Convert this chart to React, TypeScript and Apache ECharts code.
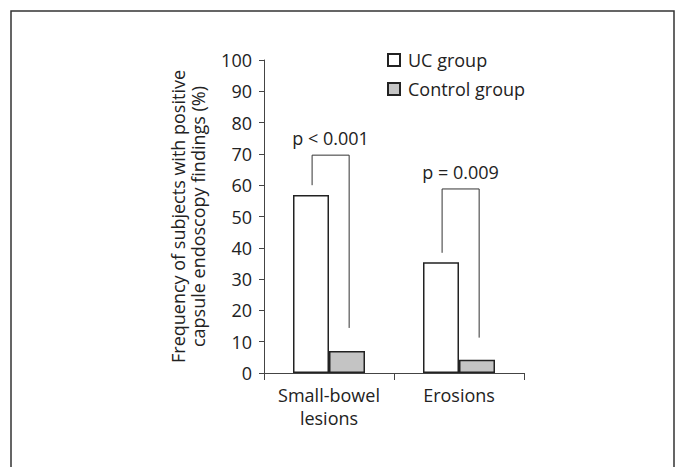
import React, { useEffect, useRef } from "react";
import * as echarts from "echarts";

const categories = ["Small-bowel\nlesions", "Erosions"];
const seriesNames = ["UC group", "Control group"];
const ucValues = [56.9, 35.4];
const controlValues = [7.0, 4.2];
const yTicks = { min: 0, max: 100, interval: 10 };
// bracket: [categoryIndex, leftFoot, top, rightFoot]
const brackets = [
  [0, 60, 69.6, 14.4],
  [1, 38.4, 58.8, 11.3],
];
const bracketLabels = ["p < 0.001", "p = 0.009"];

const FONT = "'Open Sans', 'DejaVu Sans', sans-serif";
const INK = "#222";
const FS = 18;

export default function App() {
  const ref = useRef<HTMLDivElement>(null);
  useEffect(() => {
    if (!ref.current) return;
    const chart = echarts.init(ref.current, undefined, { renderer: "svg" });
    chart.setOption({
      animation: false,
      backgroundColor: "#fff",
      textStyle: { fontFamily: FONT },
      grid: { left: 264, right: 157, top: 60, bottom: 94, containLabel: false },
      legend: {
        data: seriesNames,
        orient: "vertical",
        left: 387,
        top: 51,
        padding: 0,
        itemWidth: 12,
        itemHeight: 12,
        itemGap: 11,
        icon: "rect",
        textStyle: { fontSize: FS, lineHeight: 18, color: INK, fontFamily: FONT, padding: [0, 0, 0, 3] },
      },
      xAxis: {
        type: "category",
        data: categories,
        axisLine: { show: true, lineStyle: { color: "#444", width: 1 } },
        axisTick: { show: true, length: 7, lineStyle: { color: "#444" } },
        axisLabel: { interval: 0, hideOverlap: false, fontSize: FS, color: INK, lineHeight: 23, margin: 10, fontFamily: FONT },
      },
      yAxis: {
        type: "value",
        min: yTicks.min,
        max: yTicks.max,
        interval: yTicks.interval,
        name: "Frequency of subjects with positive\ncapsule endoscopy findings (%)",
        nameLocation: "middle",
        nameRotate: 90,
        nameGap: 56,
        nameTextStyle: { fontSize: FS, color: INK, lineHeight: 20, fontFamily: FONT },
        axisLine: { show: true, lineStyle: { color: "#444", width: 1 } },
        axisTick: { show: true, length: 5, lineStyle: { color: "#444" } },
        splitLine: { show: false },
        axisLabel: { fontSize: FS, color: INK, margin: 12, fontFamily: FONT },
      },
      series: [
        {
          name: seriesNames[0],
          type: "bar",
          data: ucValues,
          barWidth: 36,
          barGap: "0%",
          itemStyle: { color: "#fff", borderColor: "#222", borderWidth: 1.5 },
        },
        {
          name: seriesNames[1],
          type: "bar",
          data: controlValues,
          barWidth: 36,
          barGap: "0%",
          itemStyle: { color: "#c4c4c4", borderColor: "#222", borderWidth: 1.5 },
        },
        {
          type: "custom",
          data: brackets,
          silent: true,
          z: 5,
          renderItem: (params: any, api: any) => {
            const cat = api.value(0);
            const pl = api.coord([cat, api.value(1)]);
            const pt = api.coord([cat, api.value(2)]);
            const pr = api.coord([cat, api.value(3)]);
            const band = api.size([1, 0])[0];
            const xl = pl[0] - band * 0.13;
            const xr = pl[0] + band * 0.155;
            return {
              type: "group",
              children: [
                {
                  type: "polyline",
                  shape: {
                    points: [
                      [xl, pl[1]],
                      [xl, pt[1]],
                      [xr, pt[1]],
                      [xr, pr[1]],
                    ],
                  },
                  style: { stroke: "#333", lineWidth: 1, fill: null },
                },
                {
                  type: "text",
                  x: (xl + xr) / 2,
                  y: pt[1] - 17,
                  style: {
                    text: bracketLabels[params.dataIndex],
                    fontSize: FS,
                    fontFamily: FONT,
                    fill: INK,
                    align: "center",
                    verticalAlign: "middle",
                  },
                },
              ],
            };
          },
        },
      ],
      graphic: [
        {
          type: "rect",
          shape: { x: 11, y: 11, width: 663, height: 480 },
          style: { fill: "none", stroke: "#333", lineWidth: 1.5 },
          silent: true,
        },
      ],
    });
    return () => chart.dispose();
  }, []);
  return (
    <div
      ref={ref}
      style={{ position: "absolute", left: 0, top: 0, width: 681, height: 467 }}
    />
  );
}
